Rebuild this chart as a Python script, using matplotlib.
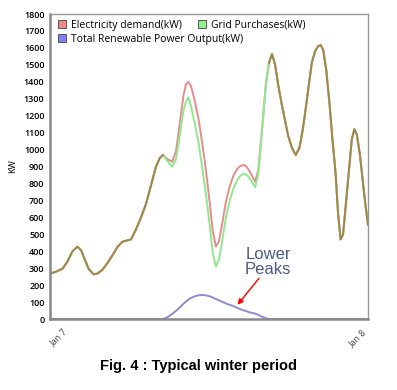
import numpy as np
import matplotlib.pyplot as plt
from matplotlib.lines import Line2D

# hours from Jan 7 00:00
hours = [-1, -0.5, 0, 0.4, 0.8, 1.2, 1.5, 1.8, 2.1, 2.5, 2.8, 3.2, 3.6, 4.0, 4.4,
         4.8, 5.1, 5.5, 5.9, 6.3, 6.7, 7.1, 7.5, 7.8, 8.05, 8.4, 8.8, 9.1, 9.4,
         9.7, 9.9, 10.1, 10.3, 10.6, 10.9, 11.2, 11.5, 11.8, 12.05, 12.3, 12.55,
         12.8, 13.1, 13.4, 13.7, 14.0, 14.3, 14.6, 14.9, 15.2, 15.45, 15.7, 16.0,
         16.3, 16.55, 16.8, 17.05, 17.3, 17.6, 17.85, 18.1, 18.4, 18.7, 19.0,
         19.25, 19.5, 19.75, 20.0, 20.25, 20.5, 20.7, 20.9, 21.15, 21.4, 21.65,
         21.9, 22.1, 22.3, 22.5, 22.75, 23.0, 23.2, 23.4, 23.6, 23.85, 24.1,
         24.3, 24.5]

demand = [268, 280, 297, 340, 400, 427, 405, 350, 295, 264, 268, 290, 330, 375, 425,
          456, 462, 470, 530, 600, 680, 790, 900, 950, 968, 945, 928, 990, 1150,
          1320, 1385, 1400, 1375, 1290, 1185, 1040, 880, 690, 520, 427, 460,
          560, 690, 780, 845, 885, 905, 909, 885, 845, 810, 880, 1120,
          1380, 1510, 1564, 1500, 1380, 1260, 1170, 1080, 1010, 968, 1010,
          1110, 1240, 1380, 1515, 1580, 1610, 1617, 1590, 1470, 1280, 1060,
          860, 620, 470, 500, 700, 900, 1060, 1120, 1090, 970, 800,
          670, 555]

grid = [268, 280, 297, 340, 400, 427, 405, 350, 295, 264, 268, 290, 330, 375, 425,
        456, 462, 470, 530, 600, 680, 790, 900, 950, 968, 935, 898, 942, 1082,
        1230, 1282, 1308, 1255, 1156, 1045, 898, 740, 556, 393, 309, 350,
        458, 598, 696, 769, 819, 848, 859, 843, 809, 778, 856, 1106,
        1375, 1510, 1564, 1500, 1380, 1260, 1170, 1080, 1010, 968, 1010,
        1110, 1240, 1380, 1515, 1580, 1610, 1617, 1590, 1470, 1280, 1060,
        860, 620, 470, 500, 700, 900, 1060, 1120, 1090, 970, 800,
        670, 555]

renewable = [0, 0, 0, 0, 0, 0, 0, 0, 0, 0, 0, 0, 0, 0, 0,
             0, 0, 0, 0, 0, 0, 0, 0, 0, 0, 10, 30, 48, 68,
             90, 103, 115, 124, 134, 140, 142, 140, 134, 127, 118, 110,
             102, 92, 84, 76, 66, 57, 50, 42, 36, 32, 24, 14,
             5, 0, 0, 0, 0, 0, 0, 0, 0, 0, 0,
             0, 0, 0, 0, 0, 0, 0, 0, 0, 0, 0,
             0, 0, 0, 0, 0, 0, 0, 0, 0, 0, 0,
             0, 0]

day_ticks = [0, 24]
day_labels = ['Jan 7', 'Jan 8']

red = '#e58c8c'
green = '#8fe88f'
brown = '#a5844c'
purple = '#8b8bd0'

plt.rcParams['font.family'] = ['Open Sans', 'DejaVu Sans']

fig = plt.figure(figsize=(3.97, 3.90), dpi=100)
ax = fig.add_axes([0.126, 0.182, 0.801, 0.782])

x = np.array(hours)
d = np.array(demand, dtype=float)
g = np.array(grid, dtype=float)
r = np.array(renewable, dtype=float)
same = np.where(r == 0, d, np.nan)

ax.plot(x, d, color=red, lw=1.4, solid_joinstyle='round')
ax.plot(x, g, color=green, lw=1.4, solid_joinstyle='round')
ax.plot(x, same, color=brown, lw=1.4, solid_joinstyle='round')
ax.plot(x, r, color=purple, lw=1.4, solid_joinstyle='round')

ax.set_xlim(-1, 24.5)
ax.set_ylim(0, 1800)
ax.set_yticks(range(0, 1801, 100))
ax.set_xticks(day_ticks)
ax.set_xticklabels(day_labels, rotation=45, ha='right', rotation_mode='anchor',
                   fontsize=6.5, color='#444444')
ax.tick_params(axis='both', length=0)
ax.tick_params(axis='x', pad=6)
ax.tick_params(axis='y', labelsize=6.5, pad=4)
for lab in ax.get_yticklabels():
    lab.set_fontweight('semibold')
ax.set_ylabel('KW', fontsize=6.5, labelpad=5)

for s in ['top', 'right']:
    ax.spines[s].set_color('#999999')
    ax.spines[s].set_linewidth(1.0)
for s in ['left', 'bottom']:
    ax.spines[s].set_color('#888888')
    ax.spines[s].set_linewidth(1.8)


def box(fc):
    return Line2D([], [], ls='none', marker='s', ms=5.5, mfc=fc, mec='#555555', mew=0.7)


leg1 = ax.legend([box('#f08a8a'), box('#90f090')],
                 ['Electricity demand(kW)', 'Grid Purchases(kW)'],
                 ncol=2, loc='center left', bbox_to_anchor=(0.026, 0.964),
                 frameon=False, fontsize=7.5, handlelength=0.8, handletextpad=0.4,
                 columnspacing=1.6, borderpad=0, borderaxespad=0)
ax.add_artist(leg1)
ax.legend([box('#8080f0')], ['Total Renewable Power Output(kW)'],
          loc='center left', bbox_to_anchor=(0.026, 0.918),
          frameon=False, fontsize=7.5, handlelength=0.8, handletextpad=0.4,
          borderpad=0, borderaxespad=0)

ax.text(16.5, 336, 'Lower\nPeaks', fontsize=12, color='#4a5a80', ha='center', va='center',
        family='Liberation Sans', linespacing=1.0)
ax.annotate('', xy=(13.9, 71), xytext=(15.9, 254),
            arrowprops=dict(arrowstyle='-|>', color='red', lw=1.0, mutation_scale=8))

fig.text(0.5, 0.062, 'Fig. 4 : Typical winter period', ha='center', va='center',
         fontsize=10.5, fontweight='bold', family='Liberation Sans')

fig.savefig('out.png', dpi=100)
